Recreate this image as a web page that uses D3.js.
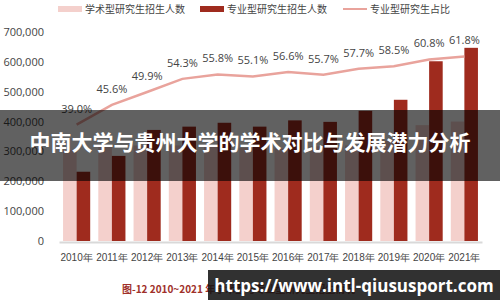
<!DOCTYPE html>
<html>
<head>
<meta charset="utf-8">
<script src="https://cdn.jsdelivr.net/npm/d3@7"></script>
<style>
  body { margin: 0; background: #fff; }
  svg { display: block; font-family: "Noto Sans CJK SC", "Noto Sans", sans-serif; }
</style>
</head>
<body>
<div id="chart"></div>
<script>
// values
const years = ["2010年","2011年","2012年","2013年","2014年","2015年","2016年","2017年","2018年","2019年","2020年","2021年"];
const academic = [305000, 315000, 320000, 320000, 315000, 312000, 310000, 317000, 320000, 336000, 388000, 400000];
const professional = [232000, 285000, 372000, 383000, 396000, 383000, 404000, 399000, 436000, 473000, 602000, 647000];
const share = [39.0, 45.6, 49.9, 54.3, 55.8, 55.1, 56.6, 55.7, 57.7, 58.5, 60.8, 61.8];
const yTicks = [0, 100000, 200000, 300000, 400000, 500000, 600000, 700000];

const width = 500, height = 300;
const margin = {top: 32, right: 18, bottom: 59, left: 59};

const lightRed = "#f4d0cc", darkRed = "#9f2b1e", lineColor = "#e9a39c";

const svg = d3.select("#chart").append("svg")
  .attr("width", width)
  .attr("height", height);

const x = d3.scaleBand()
  .domain(years)
  .range([margin.left, width - margin.right])
  .paddingInner(0.23)
  .paddingOuter(0.115);

const sub = d3.scaleBand()
  .domain(["a", "p"])
  .range([0, x.bandwidth()]);

const y = d3.scaleLinear()
  .domain([0, 700000])
  .range([height - margin.bottom, margin.top]);

// share axis (hidden) : 0-70% on same height
const y2 = d3.scaleLinear()
  .domain([0, 70])
  .range([height - margin.bottom, margin.top]);

// y axis labels
svg.append("g")
  .attr("transform", `translate(${margin.left - 12},0)`)
  .call(d3.axisLeft(y).tickValues(yTicks).tickSize(0).tickFormat(d3.format(",")))
  .call(g => g.select(".domain").remove())
  .call(g => g.selectAll("text")
    .attr("font-size", 11)
    .attr("fill", "#444")
    .attr("font-family", "'Open Sans', sans-serif"));

// bars
const groups = svg.append("g")
  .selectAll("g")
  .data(years)
  .join("g")
  .attr("transform", d => `translate(${x(d)},0)`);

groups.append("rect")
  .attr("x", sub("a"))
  .attr("width", sub.bandwidth())
  .attr("y", (d, i) => y(academic[i]))
  .attr("height", (d, i) => y(0) - y(academic[i]))
  .attr("fill", lightRed);

groups.append("rect")
  .attr("x", sub("p"))
  .attr("width", sub.bandwidth())
  .attr("y", (d, i) => y(professional[i]))
  .attr("height", (d, i) => y(0) - y(professional[i]))
  .attr("fill", darkRed);

// x axis
svg.append("g")
  .attr("transform", `translate(0,${y(0) + 1})`)
  .call(d3.axisBottom(x).tickSize(0).tickPadding(12))
  .call(g => g.select(".domain").attr("stroke", "#d9d9d9").attr("stroke-width", 2))
  .call(g => g.selectAll("text").attr("font-size", 10).attr("fill", "#444"));

// share line
const cx = d => x(d) + x.bandwidth() / 2;
const line = d3.line()
  .x((d, i) => cx(years[i]))
  .y(d => y2(d));

svg.append("path")
  .datum(share)
  .attr("fill", "none")
  .attr("stroke", lineColor)
  .attr("stroke-width", 2.5)
  .attr("d", line);

svg.append("g")
  .selectAll("text")
  .data(share)
  .join("text")
  .attr("x", (d, i) => cx(years[i]))
  .attr("y", d => y2(d) - 12)
  .attr("text-anchor", "middle")
  .attr("font-size", 11)
  .attr("font-family", "'Open Sans', sans-serif")
  .attr("fill", "#444")
  .text(d => d.toFixed(1) + "%");

// legend
const legend = [
  {label: "学术型研究生招生人数", type: "rect", color: lightRed, x: 58},
  {label: "专业型研究生招生人数", type: "rect", color: darkRed, x: 200},
  {label: "专业型研究生占比", type: "line", color: lineColor, x: 343}
];
const lg = svg.append("g").selectAll("g")
  .data(legend)
  .join("g")
  .attr("transform", d => `translate(${d.x},9)`);
lg.filter(d => d.type === "rect").append("rect")
  .attr("y", -3).attr("width", 24).attr("height", 6)
  .attr("fill", d => d.color);
lg.filter(d => d.type === "line").append("line")
  .attr("x1", 0).attr("x2", 24)
  .attr("stroke", d => d.color).attr("stroke-width", 2);
lg.append("text")
  .attr("x", 27).attr("dy", "0.35em")
  .attr("font-size", 10).attr("fill", "#444")
  .text(d => d.label);

// caption (partly under the url box)
svg.append("text")
  .attr("x", 122).attr("y", 289).attr("dy", "0.35em")
  .attr("font-size", 10).attr("font-weight", "bold")
  .attr("fill", "#a0302a")
  .text("图-12 2010~2021 年学术型与专业型研究生招生情况");

// title band overlay
svg.append("rect")
  .attr("x", 0).attr("y", 110)
  .attr("width", width).attr("height", 71)
  .attr("fill", "rgba(0,0,0,0.62)");
svg.append("text")
  .attr("x", width / 2).attr("y", 143).attr("dy", "0.35em")
  .attr("text-anchor", "middle")
  .attr("font-size", 21).attr("font-weight", "bold")
  .attr("fill", "#fff")
  .text("中南大学与贵州大学的学术对比与发展潜力分析");

// url box
svg.append("rect")
  .attr("x", 208).attr("y", 270)
  .attr("width", 292).attr("height", 30)
  .attr("fill", "rgba(20,20,20,0.88)");
svg.append("text")
  .attr("x", 354).attr("y", 286).attr("dy", "0.35em")
  .attr("text-anchor", "middle")
  .attr("font-size", 17).attr("font-weight", "bold")
  .attr("font-family", "'Open Sans', 'DejaVu Sans', sans-serif")
  .attr("fill", "#fff")
  .text("https://www.intl-qiususport.com");
</script>
</body>
</html>
